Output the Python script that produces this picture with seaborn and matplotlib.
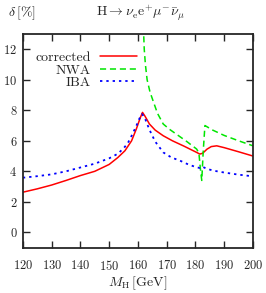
import numpy as np
import pandas as pd
import seaborn as sns
import matplotlib.pyplot as plt

# values
mh_corr = [120, 125, 130, 135, 140, 145, 150, 153, 155.5, 157.8, 159.5, 160.8, 161.6,
           162.5, 164, 166, 168.8, 172, 176, 180.4, 181.5, 182.5, 184, 185.5, 187.4, 190, 195, 200]
d_corr = [2.63, 2.85, 3.1, 3.4, 3.72, 4.0, 4.45, 4.9, 5.35, 6.0, 6.8, 7.5, 7.86,
          7.6, 7.1, 6.7, 6.33, 6.0, 5.65, 5.24, 5.13, 5.18, 5.45, 5.62, 5.67, 5.55, 5.28, 5.0]

mh_nwa = [161.9, 162.2, 162.6, 163.2, 164.2, 165.3, 166.8, 168.8, 171, 174, 177, 180.4, 181.2,
          181.7, 182.2, 182.7, 183.3, 186, 190, 195, 200]
d_nwa = [13.5, 12.0, 11.0, 10.0, 9.2, 8.6, 7.8, 7.1, 6.75, 6.35, 5.95, 5.46, 5.2,
         4.2, 3.4, 5.3, 7.0, 6.7, 6.35, 6.0, 5.67]

mh_iba = [120, 125, 130, 135, 140, 145, 150, 153, 155, 156.5, 158, 159.5, 160.5, 161.4,
          162.3, 163.2, 164.2, 166, 168.8, 171.7, 174.6, 177.5, 180.4, 181.5, 182.3, 183.5, 186, 190, 195, 200]
d_iba = [3.58, 3.68, 3.8, 4.0, 4.25, 4.5, 4.85, 5.15, 5.5, 5.85, 6.4, 7.0, 7.45, 7.75,
         7.55, 7.1, 6.65, 5.95, 5.24, 4.9, 4.7, 4.45, 4.26, 4.22, 4.32, 4.2, 4.05, 3.92, 3.78, 3.67]

sns.set_style("ticks")
plt.rcParams['font.family'] = ['cmr10', 'DejaVu Serif']
plt.rcParams['mathtext.fontset'] = 'cm'
plt.rcParams['axes.unicode_minus'] = False
plt.rcParams['axes.formatter.use_mathtext'] = True

fig = plt.figure(figsize=(2.66, 2.93), dpi=100)
ax = fig.add_axes([0.086, 0.155, 0.865, 0.729])

df_c = pd.DataFrame({'mh': mh_corr, 'd': d_corr})
df_n = pd.DataFrame({'mh': mh_nwa, 'd': d_nwa})
df_i = pd.DataFrame({'mh': mh_iba, 'd': d_iba})

sns.lineplot(data=df_c, x='mh', y='d', ax=ax, color='#ff0000', lw=1.1, label='corrected')
sns.lineplot(data=df_n, x='mh', y='d', ax=ax, color='#00e600', lw=1.1, label='NWA')
sns.lineplot(data=df_i, x='mh', y='d', ax=ax, color='#0000ff', lw=1.3, label='IBA')
ax.lines[1].set_dashes((4, 2.5))
ax.lines[2].set_dashes((1.3, 2.2))

ax.set_xlim(120, 200)
ax.set_ylim(-1, 13)
ax.set_xticks(np.arange(120, 201, 10))
ax.set_yticks(np.arange(0, 13, 2))
ax.tick_params(direction='in', length=5, width=1, labelsize=9, top=True, right=True)
ax.tick_params(axis='x', pad=8)
ax.tick_params(axis='y', pad=4)
for s in ax.spines.values():
    s.set_linewidth(1.3)

ax.set_xlabel(r'$M_{\mathrm{H}}\,[\mathrm{GeV}]$', fontsize=10, labelpad=1)
ax.set_ylabel('')
fig.text(0.03, 0.955, r'$\delta\,[\%]$', fontsize=10, ha='left', va='center')
fig.text(0.53, 0.955, r'$\mathrm{H}\rightarrow\nu_{\mathrm{e}}\mathrm{e}^{+}\mu^{-}\bar{\nu}_{\mu}$',
         fontsize=10, ha='center', va='center')

leg = ax.legend(loc='upper right', frameon=False, markerfirst=False, fontsize=10,
                handlelength=2.65, handletextpad=0.65, labelspacing=0.0,
                borderpad=0.0, borderaxespad=0.0, bbox_to_anchor=(0.496, 0.92))
for t in leg.get_texts():
    t.set_ha('right')
leg._legend_box.align = 'right'

fig.savefig('out.png', dpi=100)
